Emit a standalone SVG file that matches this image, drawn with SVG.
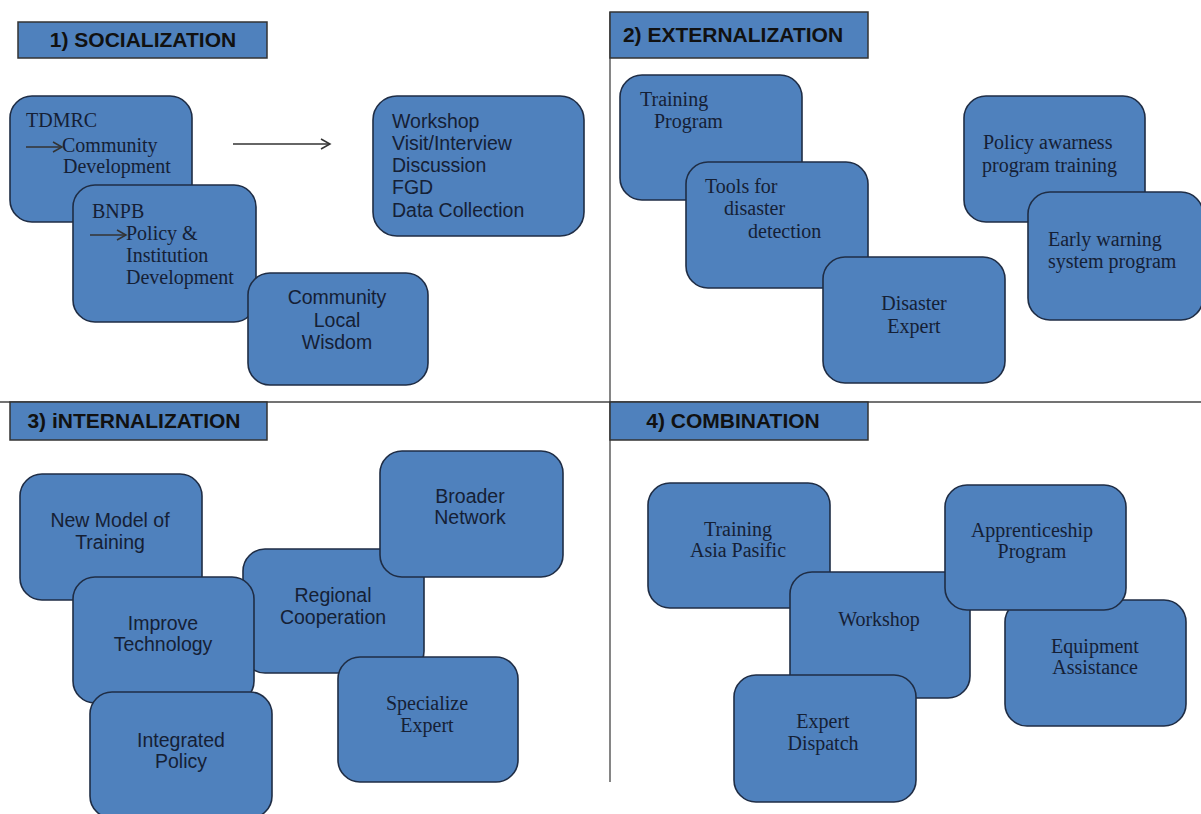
<svg xmlns="http://www.w3.org/2000/svg" width="1201" height="814" viewBox="0 0 1201 814">
<style>
.box{fill:#4f81bd;stroke:#1f2d45;stroke-width:1.6}
.hdr{fill:#4f81bd;stroke:#333;stroke-width:1.5}
.ht{font-family:"Liberation Sans",Arial,sans-serif;font-weight:bold;font-size:21px;fill:#111;text-anchor:middle}
.s{font-family:"Liberation Sans",Arial,sans-serif;font-size:19.5px;fill:#152035}
.r{font-family:"Liberation Serif","Times New Roman",serif;font-size:20px;fill:#152035}
.c{text-anchor:middle}
.div{stroke:#444;stroke-width:1.3;fill:none}
.arr{stroke:#333;stroke-width:1.5;fill:none}
</style>
<defs>
<marker id="oa" markerWidth="12" markerHeight="12" refX="10" refY="6" orient="auto" markerUnits="userSpaceOnUse">
<path d="M1,1 L10,6 L1,11" fill="none" stroke="#333" stroke-width="1.5"/>
</marker>
</defs>
<rect width="1201" height="814" fill="#fff"/>
<g id="dividers">
<line class="div" x1="610" y1="12" x2="610" y2="782"/>
<line class="div" x1="0" y1="402" x2="1201" y2="402"/>
</g>
<g id="h1"><rect class="hdr" x="18" y="22" width="249" height="36"/><text class="ht" x="143" y="47">1) SOCIALIZATION</text></g>
<g id="h2"><rect class="hdr" x="610" y="12" width="258" height="46"/><text class="ht" x="733" y="42">2) EXTERNALIZATION</text></g>
<g id="h3"><rect class="hdr" x="10" y="402" width="257" height="38"/><text class="ht" x="134" y="428">3) iNTERNALIZATION</text></g>
<g id="h4"><rect class="hdr" x="610" y="402" width="258" height="38"/><text class="ht" x="733" y="428">4) COMBINATION</text></g>

<g id="tdmrc"><rect class="box" x="10" y="96" width="182" height="126" rx="22"/>
<text class="r" x="26" y="127">TDMRC</text><text class="r" x="62" y="152">Community</text><text class="r" x="63" y="173">Development</text></g>
<g id="bnpb"><rect class="box" x="73" y="185" width="183" height="137" rx="22"/>
<text class="r" x="92" y="218">BNPB</text><text class="r" x="126" y="240">Policy &amp;</text><text class="r" x="126" y="262">Institution</text><text class="r" x="126" y="284">Development</text></g>
<g id="wisdom"><rect class="box" x="248" y="273" width="180" height="112" rx="22"/>
<text class="s c" x="337" y="304">Community</text><text class="s c" x="337" y="327">Local</text><text class="s c" x="337" y="349">Wisdom</text></g>
<g id="activities"><rect class="box" x="373" y="96" width="211" height="140" rx="24"/>
<text class="s" x="392" y="128">Workshop</text><text class="s" x="392" y="150">Visit/Interview</text><text class="s" x="392" y="172">Discussion</text><text class="s" x="392" y="194">FGD</text><text class="s" x="392" y="217">Data Collection</text></g>

<g id="training-program"><rect class="box" x="620" y="75" width="182" height="125" rx="22"/>
<text class="r" x="640" y="106">Training</text><text class="r" x="654" y="128">Program</text></g>
<g id="tools"><rect class="box" x="686" y="162" width="182" height="126" rx="22"/>
<text class="r" x="705" y="193">Tools for</text><text class="r" x="724" y="215">disaster</text><text class="r" x="748" y="238">detection</text></g>
<g id="disaster-expert"><rect class="box" x="823" y="257" width="182" height="126" rx="22"/>
<text class="r c" x="914" y="310">Disaster</text><text class="r c" x="914" y="333">Expert</text></g>
<g id="policy-awareness"><rect class="box" x="964" y="96" width="181" height="126" rx="22"/>
<text class="r" x="983" y="149">Policy awarness</text><text class="r" x="982" y="172">program training</text></g>
<g id="early-warning"><rect class="box" x="1028" y="192" width="175" height="128" rx="22"/>
<text class="r" x="1048" y="246">Early warning</text><text class="r" x="1048" y="268">system program</text></g>

<g id="new-model"><rect class="box" x="20" y="474" width="182" height="126" rx="22"/>
<text class="s c" x="110" y="527">New Model of</text><text class="s c" x="110" y="549">Training</text></g>
<g id="regional"><rect class="box" x="243" y="549" width="181" height="124" rx="22"/>
<text class="s c" x="333" y="602">Regional</text><text class="s c" x="333" y="624">Cooperation</text></g>
<g id="improve"><rect class="box" x="73" y="577" width="181" height="126" rx="22"/>
<text class="s c" x="163" y="630">Improve</text><text class="s c" x="163" y="651">Technology</text></g>
<g id="broader"><rect class="box" x="380" y="451" width="183" height="126" rx="22"/>
<text class="s c" x="470" y="503">Broader</text><text class="s c" x="470" y="524">Network</text></g>
<g id="specialize"><rect class="box" x="338" y="657" width="180" height="125" rx="22"/>
<text class="r c" x="427" y="710">Specialize</text><text class="r c" x="427" y="732">Expert</text></g>
<g id="integrated"><rect class="box" x="90" y="692" width="182" height="126" rx="22"/>
<text class="s c" x="181" y="747">Integrated</text><text class="s c" x="181" y="768">Policy</text></g>

<g id="training-asia"><rect class="box" x="648" y="483" width="182" height="125" rx="22"/>
<text class="r c" x="738" y="536">Training</text><text class="r c" x="738" y="557">Asia Pasific</text></g>
<g id="workshop"><rect class="box" x="790" y="572" width="180" height="126" rx="22"/>
<text class="r c" x="879" y="626">Workshop</text></g>
<g id="equipment"><rect class="box" x="1005" y="600" width="181" height="126" rx="22"/>
<text class="r c" x="1095" y="653">Equipment</text><text class="r c" x="1095" y="674">Assistance</text></g>
<g id="apprenticeship"><rect class="box" x="945" y="485" width="181" height="125" rx="22"/>
<text class="r c" x="1032" y="537">Apprenticeship</text><text class="r c" x="1032" y="558">Program</text></g>
<g id="expert-dispatch"><rect class="box" x="734" y="675" width="182" height="127" rx="22"/>
<text class="r c" x="823" y="728">Expert</text><text class="r c" x="823" y="750">Dispatch</text></g>

<g id="connectors">
<line class="arr" x1="233" y1="144" x2="330" y2="144" marker-end="url(#oa)"/>
<line class="arr" x1="26" y1="147" x2="62" y2="147" marker-end="url(#oa)"/>
<line class="arr" x1="90" y1="235" x2="126" y2="235" marker-end="url(#oa)"/>
</g>
</svg>
